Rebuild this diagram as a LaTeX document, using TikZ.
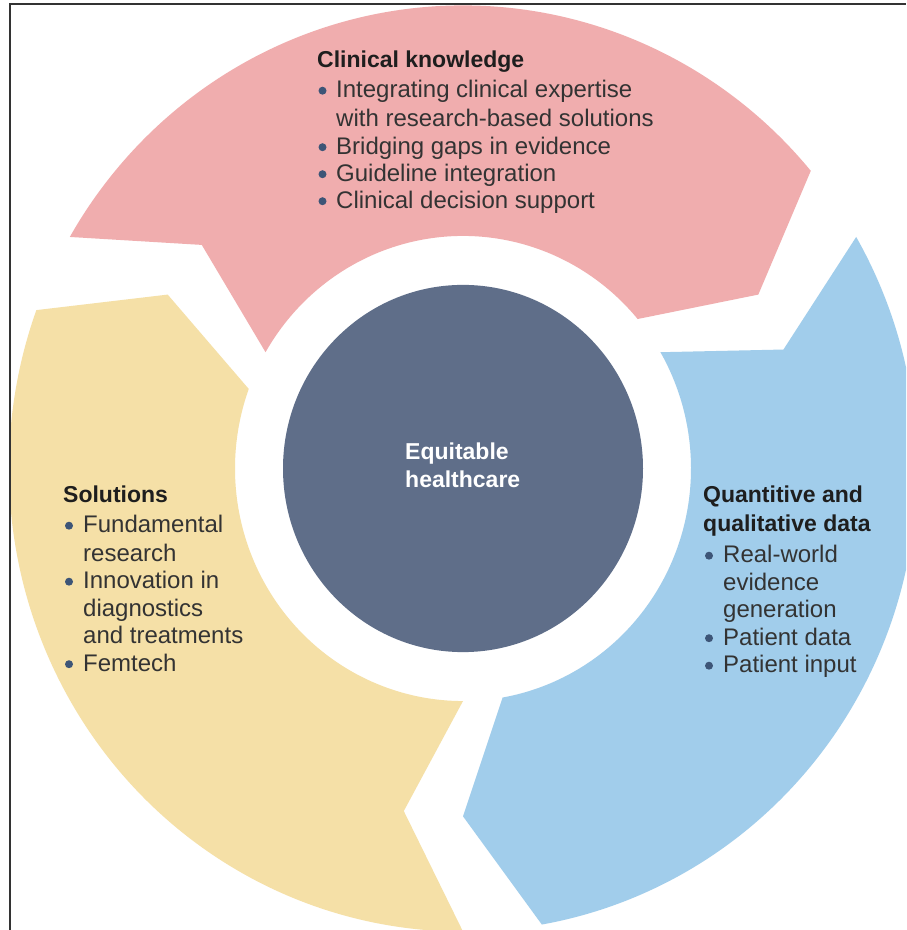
\documentclass[tikz,border=0pt]{standalone}
\usepackage{fontspec}
\setmainfont{Liberation Sans}
\definecolor{pinkc}{HTML}{F0ADAE}
\definecolor{bluec}{HTML}{A1CDEB}
\definecolor{yelc}{HTML}{F5E0A7}
\definecolor{circc}{HTML}{5F6E89}
\definecolor{textc}{HTML}{333333}
\definecolor{titlec}{HTML}{1E1E1E}
\definecolor{bulc}{HTML}{3D5577}
\definecolor{framec}{HTML}{333333}
\tikzset{
  body/.style={anchor=base west, inner sep=0pt, text=textc, font=\fontsize{24}{28}\selectfont},
  ttl/.style={anchor=base west, inner sep=0pt, text=titlec, font=\fontsize{23}{28}\selectfont\bfseries},
  ctr/.style={anchor=base west, inner sep=0pt, text=white, font=\fontsize{23}{28}\selectfont\bfseries},
  dot/.style={circle, fill=bulc, inner sep=0pt, minimum size=8pt},
}
\begin{document}
\begin{tikzpicture}[x=1pt,y=1pt]
\useasboundingbox (0,0) rectangle (906,930);
\fill[white] (0,0) rectangle (906,930);
\begin{scope}
\clip (10,0) rectangle (906,925);
\begin{scope}[shift={(463,461.5)}, yscale=1.02]
  % Clinical knowledge (pink)
  \fill[pinkc] (150:454) arc[start angle=150,end angle=40,radius=454pt] -- (30:341) -- (40:228)
     arc[start angle=40,end angle=150,radius=228pt] -- (140:341) -- cycle;
  % Data (blue)
  \fill[bluec] (30:454) arc[start angle=30,end angle=-80,radius=454pt] -- (-90:341) -- (-80:228)
     arc[start angle=-80,end angle=30,radius=228pt] -- (20:341) -- cycle;
  % Solutions (yellow)
  \fill[yelc] (-90:454) arc[start angle=-90,end angle=-200,radius=454pt] -- (-210:341) -- (-200:228)
     arc[start angle=-200,end angle=-90,radius=228pt] -- (-100:341) -- cycle;
  % centre
  \fill[circc] (0,0) circle[radius=180pt];
\end{scope}
\end{scope}
\draw[framec, line width=2pt] (9.5,0) -- (9.5,925.5) -- (906,925.5);

% centre text
\node[ctr] (c1) at (405,470) {Equitable};
\node[ctr] (c2) at (405,442) {healthcare};

% pink block
\node[ttl] (p0) at (317,862) {Clinical knowledge};
\node[dot] (pd1) at (322.5,839.3) {};
\node[body] (p1) at (336,832) {Integrating clinical expertise};
\node[body] (p2) at (336,803.5) {with research-based solutions};
\node[dot] (pd3) at (322.5,782.8) {};
\node[body] (p3) at (336,775.5) {Bridging gaps in evidence};
\node[dot] (pd4) at (322.5,755.8) {};
\node[body] (p4) at (336,748.5) {Guideline integration};
\node[dot] (pd5) at (322.5,728.8) {};
\node[body] (p5) at (336,721.5) {Clinical decision support};

% yellow block
\node[ttl] (y0) at (63,427) {Solutions};
\node[dot] (yd1) at (69,404.3) {};
\node[body] (y1) at (83,397) {Fundamental};
\node[body] (y2) at (83,368.5) {research};
\node[dot] (yd3) at (69,348.3) {};
\node[body] (y3) at (83,341) {Innovation in};
\node[body] (y4) at (83,313) {diagnostics};
\node[body] (y5) at (83,286) {and treatments};
\node[dot] (yd6) at (69,265.8) {};
\node[body] (y6) at (83,258.5) {Femtech};

% blue block
\node[ttl] (b0) at (703,427) {Quantitive and};
\node[ttl] (b0b) at (703,398) {qualitative data};
\node[dot] (bd1) at (709,374.3) {};
\node[body] (b1) at (723,367) {Real-world};
\node[body] (b2) at (723,339.5) {evidence};
\node[body] (b3) at (723,312) {generation};
\node[dot] (bd4) at (709,291.8) {};
\node[body] (b4) at (723,284.5) {Patient data};
\node[dot] (bd5) at (709,264.3) {};
\node[body] (b5) at (723,257) {Patient input};
\end{tikzpicture}
\end{document}
